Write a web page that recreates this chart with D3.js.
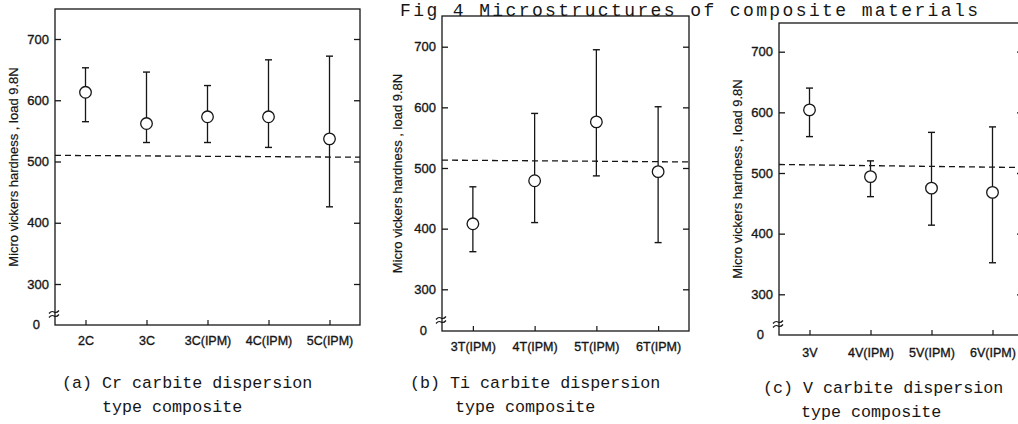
<!DOCTYPE html>
<html><head><meta charset="utf-8">
<script src="https://cdn.jsdelivr.net/npm/d3@7"></script>
<style>body{margin:0;background:#fff} svg{display:block}</style>
</head><body>
<svg id="chart" width="1018" height="424"></svg>
<script>
// ---------- data ----------
const catsA = ["2C", "3C", "3C(IPM)", "4C(IPM)", "5C(IPM)"];
const meanA = [613, 562, 573, 573, 537];
const upA   = [653, 646, 624, 666, 672];
const lowA  = [565, 531, 531, 523, 426];

const catsB = ["3T(IPM)", "4T(IPM)", "5T(IPM)", "6T(IPM)"];
const meanB = [408, 479, 576, 494];
const upB   = [469, 590, 695, 601];
const lowB  = [362, 410, 487, 377];

const catsC = ["3V", "4V(IPM)", "5V(IPM)", "6V(IPM)"];
const meanC = [604, 494, 475, 468];
const upC   = [640, 520, 567, 576];
const lowC  = [560, 461, 414, 352];

const yTickValues = [300, 400, 500, 600, 700];
const baseTickLabel = "0";
const refStart = [510, 513, 514];   // dashed reference line, left end
const refEnd   = [507, 510, 509];   // dashed reference line, right end
const yTitle = "Micro vickers hardness , load 9.8N";
const captionsA = ["(a) Cr carbite dispersion", "type composite"];
const captionsB = ["(b) Ti carbite dispersion", "type composite"];
const captionsC = ["(c) V carbite dispersion", "type composite"];
const figTitle = "Fig 4  Microstructures of composite materials";

// ---------- layout ----------
const svg = d3.select("#chart");
svg.append("rect").attr("width", 1018).attr("height", 424).attr("fill", "#fff");

const ink = "#161616";
const sans = "'Liberation Sans', Arial, Helvetica, sans-serif";
const mono = "'Liberation Mono', 'Courier New', monospace";

svg.append("text")
  .attr("x", 400).attr("y", 16)
  .attr("font-family", mono).attr("font-size", 18)
  .attr("textLength", 578).attr("lengthAdjust", "spacing")
  .attr("fill", ink)
  .text(figTitle);

const panels = [
  { cats: catsA, mean: meanA, up: upA, low: lowA, caps: captionsA, ref: 0,
    x0: 55, x1: 360, yTop: 9, yBot: 325, y300: 284, y700: 39,
    labX: 13, capX: [62, 102], capY: [388, 412], catPad: 11 },
  { cats: catsB, mean: meanB, up: upB, low: lowB, caps: captionsB, ref: 1,
    x0: 442, x1: 689, yTop: 16, yBot: 331, y300: 289.3, y700: 46.7,
    labX: 397, capX: [410, 455], capY: [388, 412], catPad: 11 },
  { cats: catsC, mean: meanC, up: upC, low: lowC, caps: captionsC, ref: 2,
    x0: 779, x1: 1023, yTop: 23, yBot: 335, y300: 294.3, y700: 51.7,
    labX: 737, capX: [763, 801], capY: [393, 417], catPad: 13 }
];

panels.forEach(p => {
  const g = svg.append("g");
  const x = d3.scalePoint().domain(p.cats).range([p.x0, p.x1]).padding(0.5);
  const y = d3.scaleLinear().domain([300, 700]).range([p.y300, p.y700]);

  // frame
  g.append("rect")
    .attr("x", p.x0).attr("y", p.yTop)
    .attr("width", p.x1 - p.x0).attr("height", p.yBot - p.yTop)
    .attr("fill", "none").attr("stroke", ink).attr("stroke-width", 1.3);

  // left axis
  const la = g.append("g").attr("transform", `translate(${p.x0},0)`)
    .call(d3.axisLeft(y).tickValues(yTickValues).tickSize(-6).tickPadding(6));
  la.select(".domain").remove();
  la.selectAll("line").attr("stroke", ink).attr("stroke-width", 1.3);
  la.selectAll("text").attr("font-family", sans).attr("font-size", 13)
    .attr("fill", ink).attr("stroke", ink).attr("stroke-width", 0.35);

  // "0" base label
  g.append("text")
    .attr("x", p.x0 - 15).attr("y", p.yBot).attr("dy", "0.32em")
    .attr("text-anchor", "end")
    .attr("font-family", sans).attr("font-size", 13)
    .attr("fill", ink).attr("stroke", ink).attr("stroke-width", 0.35)
    .text(baseTickLabel);

  // axis break marks
  [-13, -9].forEach(off => {
    const yy = p.yBot + off;
    g.append("path")
      .attr("d", `M${p.x0 - 6},${yy + 1.5} q2.5,-3 5,-1.5 t5,-1.5`)
      .attr("fill", "none").attr("stroke", ink).attr("stroke-width", 1.2);
  });

  // right axis ticks
  const ra = g.append("g").attr("transform", `translate(${p.x1},0)`)
    .call(d3.axisRight(y).tickValues(yTickValues).tickSize(-6).tickFormat(""));
  ra.select(".domain").remove();
  ra.selectAll("line").attr("stroke", ink).attr("stroke-width", 1.3);

  // bottom axis
  const ba = g.append("g").attr("transform", `translate(0,${p.yBot})`)
    .call(d3.axisBottom(x).tickSize(-5).tickPadding(p.catPad));
  ba.select(".domain").remove();
  ba.selectAll("line").attr("stroke", ink).attr("stroke-width", 1.2);
  ba.selectAll("text").attr("font-family", sans).attr("font-size", 12.5)
    .attr("fill", ink).attr("stroke", ink).attr("stroke-width", 0.35);

  // y title
  g.append("text")
    .attr("transform", `translate(${p.labX},${(p.yTop + p.yBot) / 2}) rotate(-90)`)
    .attr("text-anchor", "middle").attr("dy", "0.35em")
    .attr("font-family", sans).attr("font-size", 13).attr("fill", ink)
    .attr("stroke", ink).attr("stroke-width", 0.2)
    .text(yTitle);

  // dashed reference line
  g.append("line")
    .attr("x1", p.x0).attr("x2", p.x1)
    .attr("y1", y(refStart[p.ref])).attr("y2", y(refEnd[p.ref]))
    .attr("stroke", ink).attr("stroke-width", 1.3)
    .attr("stroke-dasharray", "6,4");

  // error bars
  const rows = p.cats.map((c, i) => ({ c, m: p.mean[i], hi: p.up[i], lo: p.low[i] }));
  const eb = g.selectAll(".eb").data(rows).enter().append("g");
  eb.append("line")
    .attr("x1", d => x(d.c)).attr("x2", d => x(d.c))
    .attr("y1", d => y(d.hi)).attr("y2", d => y(d.lo))
    .attr("stroke", ink).attr("stroke-width", 1.3);
  ["hi", "lo"].forEach(k => {
    eb.append("line")
      .attr("x1", d => x(d.c) - 3.5).attr("x2", d => x(d.c) + 3.5)
      .attr("y1", d => y(d[k])).attr("y2", d => y(d[k]))
      .attr("stroke", ink).attr("stroke-width", 1.4);
  });
  eb.append("circle")
    .attr("cx", d => x(d.c)).attr("cy", d => y(d.m)).attr("r", 5.8)
    .attr("fill", "#fff").attr("stroke", ink).attr("stroke-width", 1.3);

  // caption
  p.caps.forEach((t, i) => {
    g.append("text")
      .attr("x", p.capX[i]).attr("y", p.capY[i])
      .attr("font-family", mono).attr("font-size", 16.7).attr("fill", ink)
      .text(t);
  });
});
</script>
</body></html>
